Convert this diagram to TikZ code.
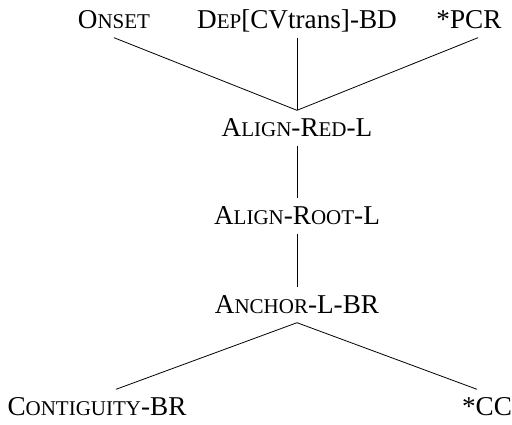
\documentclass[tikz,border=0pt]{standalone}
\usepackage{fontspec}
\setmainfont{Liberation Serif}
\newfontfamily\timesfont{Liberation Serif}
\usetikzlibrary{positioning}

\newcommand{\lowsc}[1]{{\fontsize{21}{21}\selectfont #1}}

\begin{document}
\begin{tikzpicture}[x=1pt,y=1pt,on grid,node distance=88pt,
    every node/.style={font=\timesfont\fontsize{27.2}{27.2}\selectfont,text height=17pt,
      text depth=0pt,inner xsep=2pt,inner ysep=9pt},
    rank/.style={line width=0.8pt}]
            \useasboundingbox (0,0) rectangle (512,-424);
            \node (red) at (297,-128) {A\lowsc{LIGN}-R\lowsc{ED}-L};
            \node (root) [below=of red] {A\lowsc{LIGN}-R\lowsc{OOT}-L};
            \node (anchor) [below=89pt of root] {A\lowsc{NCHOR}-L-BR};
            \node (onset) [above left=108pt and 183pt of red] {O\lowsc{NSET}};
            \node (dep) [above=108pt of red] {D\lowsc{EP}[CVtrans]-BD};
            \node (pcr) [above right=108pt and 172pt of red] {*PCR};
            \node (contig) [below left=102pt and 200pt of anchor] {C\lowsc{ONTIGUITY}-BR};
            \node (cc) [below right=102pt and 190pt of anchor] {*CC};

            \path[rank]
                (onset.south) edge (red.north)
                (dep.south) edge (red.north)
                ([xshift=9pt]pcr.south) edge (red.north)
                (red) edge (root)
                (root) edge (anchor)
                (anchor.south) edge ([xshift=19pt]contig.north)
                    edge ([xshift=-10pt]cc.north)
                   ;
        \end{tikzpicture}
\end{document}
